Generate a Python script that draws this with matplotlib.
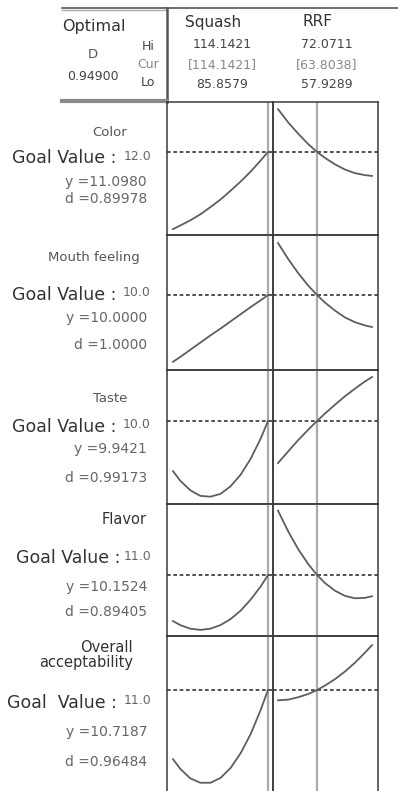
import matplotlib
matplotlib.use("Agg")
from matplotlib import pyplot as plt

W, H = 398, 791

# factor settings (header block)
factors = ["Squash", "RRF"]
factor_hi = ["114.1421", "72.0711"]
factor_cur = ["[114.1421]", "[63.8038]"]
factor_lo = ["85.8579", "57.9289"]
squash_lo, squash_hi, squash_cur = 85.8579, 114.1421, 114.1421
rrf_lo, rrf_hi, rrf_cur = 57.9289, 72.0711, 63.8038
composite_d = "0.94900"

# responses
responses = ["Color", "Mouth feeling", "Taste", "Flavor", "Overall\nacceptability"]
goals = ["12.0", "10.0", "10.0", "11.0", "11.0"]
y_pred = [11.0980, 10.0000, 9.9421, 10.1524, 10.7187]
y_text = ["11.0980", "10.0000", "9.9421", "10.1524", "10.7187"]
d_text = ["0.89978", "1.0000", "0.99173", "0.89405", "0.96484"]

# prediction traces
squash_grid = [85.8579, 88, 91, 94, 97, 100, 103, 106, 109, 112, 114.1421]
rrf_grid = [57.9289, 59.5, 61, 62.5, 63.8038, 65, 66.5, 68, 69.5, 71, 72.0711]
squash_trace = [
    [9.17, 9.26, 9.39, 9.54, 9.72, 9.91, 10.13, 10.36, 10.61, 10.89, 11.0980],
    [8.33, 8.45, 8.63, 8.81, 8.99, 9.16, 9.34, 9.52, 9.70, 9.87, 10.0000],
    [8.69, 8.45, 8.21, 8.07, 8.05, 8.12, 8.31, 8.60, 9.00, 9.51, 9.9421],
    [9.00, 8.90, 8.81, 8.78, 8.81, 8.90, 9.05, 9.26, 9.54, 9.87, 10.1524],
    [8.99, 8.75, 8.51, 8.40, 8.40, 8.52, 8.77, 9.14, 9.62, 10.23, 10.7187],
]
rrf_trace = [
    [12.17, 11.83, 11.55, 11.29, 11.0980, 10.95, 10.79, 10.66, 10.57, 10.52, 10.50],
    [11.30, 10.89, 10.54, 10.23, 10.0000, 9.81, 9.61, 9.44, 9.32, 9.24, 9.20],
    [8.89, 9.19, 9.47, 9.73, 9.9421, 10.13, 10.35, 10.56, 10.75, 10.93, 11.04],
    [11.76, 11.23, 10.79, 10.42, 10.1524, 9.95, 9.76, 9.63, 9.57, 9.58, 9.62],
    [10.46, 10.48, 10.54, 10.62, 10.7187, 10.83, 10.99, 11.18, 11.40, 11.65, 11.84],
]
y_ranges = [(9.023, 12.348), (8.125, 11.5), (7.867, 11.217), (8.627, 11.927), (8.094, 12.069)]

# layout in pixels
row_edges = [102, 235, 370, 504, 636, 795]
col_edges = [167, 273, 378]
FONT = "DejaVu Sans"
LINE = "#3a3a3a"
CURVE = "#5e5e5e"
CURLINE = "#ababab"


def fig_rect(x0, x1, y0, y1):
    return [x0 / W, 1 - y1 / H, (x1 - x0) / W, (y1 - y0) / H]


plt.rcParams["font.family"] = FONT
fig = plt.figure(figsize=(W / 100, H / 100), dpi=100)

# overlay in pixel coordinates for header, labels and rules
ov = fig.add_axes([0, 0, 1, 1], zorder=0)
ov.set_xlim(0, W)
ov.set_ylim(H, 0)
ov.axis("off")

for i in range(len(responses)):
    y0, y1 = row_edges[i], row_edges[i + 1]
    cols = [
        (squash_grid, squash_trace[i], squash_lo, squash_hi, squash_cur, 6, 5),
        (rrf_grid, rrf_trace[i], rrf_lo, rrf_hi, rrf_cur, 5, 6),
    ]
    for j, (grid, trace, lo, hi, cur, gap_l, gap_r) in enumerate(cols):
        x0, x1 = col_edges[j], col_edges[j + 1]
        ax = fig.add_axes(fig_rect(x0, x1, y0, y1), zorder=2)
        ax.patch.set_alpha(0)
        per_px = (hi - lo) / (x1 - x0 - gap_l - gap_r)
        ax.set_xlim(lo - gap_l * per_px, hi + gap_r * per_px)
        ax.set_ylim(*y_ranges[i])
        ax.axvline(cur, color=CURLINE, lw=1.6, zorder=1)
        ax.axhline(y_pred[i], color="#333333", lw=1.2, ls=(0, (2.2, 1.6)), zorder=2)
        ax.plot(grid, trace, color=CURVE, lw=1.3, zorder=3)
        ax.set_xticks([])
        ax.set_yticks([])
        for s in ax.spines.values():
            s.set_color(LINE)
            s.set_linewidth(1.1)

# header rules
ov.plot([62, W], [7.5, 7.5], color="#555555", lw=1.2)
ov.plot([62, 166], [10, 10], color="#aaaaaa", lw=1.0)
ov.plot([167, 167], [7.5, 102], color="#555555", lw=1.8)
ov.plot([62, 166], [100.5, 100.5], color="#8a8a8a", lw=3.0)

# header text
ov.text(62, 27, "Optimal", fontsize=11.5, color="#333333", va="center", ha="left")
ov.text(93, 55, "D", fontsize=9.5, color="#555555", va="center", ha="center")
ov.text(93, 77, composite_d, fontsize=9, color="#444444", va="center", ha="center")
ov.text(148, 47, "Hi", fontsize=9, color="#444444", va="center", ha="center")
ov.text(148, 65, "Cur", fontsize=9, color="#888888", va="center", ha="center")
ov.text(148, 83, "Lo", fontsize=9, color="#444444", va="center", ha="center")
for name, hi_s, cur_s, lo_s, tx, vx in zip(factors, factor_hi, factor_cur, factor_lo, [213, 317], [222, 327]):
    ov.text(tx, 22, name, fontsize=11, color="#333333", va="center", ha="center")
    ov.text(vx, 45, hi_s, fontsize=9, color="#444444", va="center", ha="center")
    ov.text(vx, 65, cur_s, fontsize=9, color="#888888", va="center", ha="center")
    ov.text(vx, 85, lo_s, fontsize=9, color="#444444", va="center", ha="center")

# response labels
name_pos = [(110, 133, "center"), (94, 257, "center"), (110, 399, "center"), (147, 519, "right"), (133, 655, "right")]
name_dark = [False, False, False, True, True]
goal_y = [158, 295, 427, 558, 703]
goal_x = [12, 12, 12, 16, 7]
goal_lab = ["Goal Value :", "Goal Value :", "Goal Value :", "Goal Value :", "Goal  Value :"]
yline_y = [182, 318, 449, 587, 732]
dline_y = [199, 345, 478, 612, 762]

for i, resp in enumerate(responses):
    nx, ny, nha = name_pos[i]
    if name_dark[i]:
        ov.text(nx, ny, resp, fontsize=10.5, color="#333333", va="center", ha=nha,
                multialignment="right", linespacing=1.05)
    else:
        ov.text(nx, ny, resp, fontsize=9.5, color="#555555", va="center", ha=nha)
    ov.text(goal_x[i], goal_y[i], goal_lab[i], fontsize=12.5, color="#333333", va="center", ha="left")
    ov.text(151, goal_y[i] - 2, goals[i], fontsize=9, color="#666666", va="center", ha="right")
    ov.text(147, yline_y[i], "y =" + y_text[i], fontsize=10, color="#666666", va="center", ha="right")
    ov.text(147, dline_y[i], "d =" + d_text[i], fontsize=10, color="#666666", va="center", ha="right")

fig.savefig("out.png", dpi=100)
